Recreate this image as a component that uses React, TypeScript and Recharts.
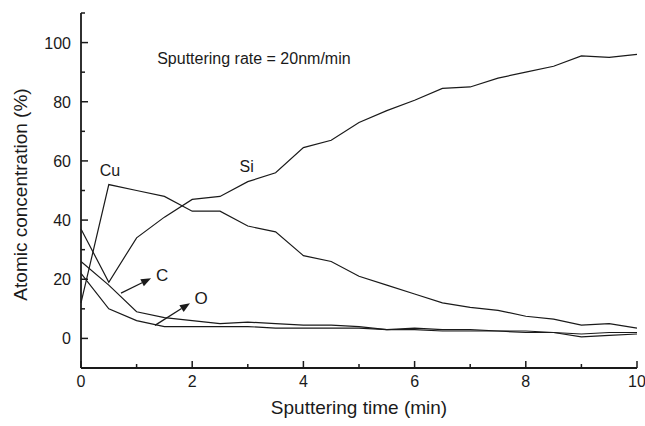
import React from 'react'
import {
  LineChart, Line, XAxis, YAxis, ReferenceDot, ReferenceLine,
} from 'recharts'

const time = [0, 0.5, 1, 1.5, 2, 2.5, 3, 3.5, 4, 4.5, 5, 5.5, 6, 6.5, 7, 7.5, 8, 8.5, 9, 9.5, 10]
const si = [37, 19, 34, 41, 47, 48, 53, 56, 64.5, 67, 73, 77, 80.5, 84.5, 85, 88, 90, 92, 95.5, 95, 96]
const cu = [12, 52, 50, 48, 43, 43, 38, 36, 28, 26, 21, 18, 15, 12, 10.5, 9.5, 7.5, 6.5, 4.5, 5, 3.5]
const carbon = [26, 18, 9, 7, 6, 5, 5.5, 5, 4.5, 4.5, 4, 3, 3.5, 3, 3, 2.5, 2.5, 2, 1.5, 2, 2]
const oxygen = [22, 10, 6, 4, 4, 4, 4, 3.5, 3.5, 3.5, 3.5, 3, 3, 2.5, 2.5, 2.5, 2, 2, 0.5, 1, 1.5]

const xTicks = [0, 1, 2, 3, 4, 5, 6, 7, 8, 9, 10]
const xLabels = [0, 2, 4, 6, 8, 10]
const yTicks = [-10, 0, 10, 20, 30, 40, 50, 60, 70, 80, 90, 100, 110]
const yLabels = [0, 20, 40, 60, 80, 100]

const data = time.map((t, i) => ({
  t, si: si[i], cu: cu[i], c: carbon[i], o: oxygen[i],
}))

const FONT = '"Liberation Sans", Arial, Helvetica, sans-serif'
const INK = '#1a1a1a'

function YTick(props: any) {
  const { x, y, payload } = props
  const v = payload.value
  const major = yLabels.includes(v)
  return (
    <g>
      <line x1={x} x2={x + (major ? 7 : 4)} y1={y} y2={y} stroke={INK} strokeWidth={1.5} />
      {major && (
        <text x={x - 10} y={y + 6} textAnchor="end" fontSize={16} fontFamily={FONT} fill={INK}>
          {v}
        </text>
      )}
    </g>
  )
}

function XTick(props: any) {
  const { x, y, payload } = props
  const v = payload.value
  const major = xLabels.includes(v)
  return (
    <g>
      <line x1={x} x2={x} y1={y} y2={y - (major ? 7 : 4)} stroke={INK} strokeWidth={1.5} />
      {major && (
        <text x={x} y={y + 19} textAnchor="middle" fontSize={16} fontFamily={FONT} fill={INK}>
          {v}
        </text>
      )}
    </g>
  )
}

const textShape = (label: string, size: number, anchor: string) => (p: any) => (
  <text x={p.cx} y={p.cy} textAnchor={anchor} fontSize={size} fontFamily={FONT} fill={INK}>
    {label}
  </text>
)

function Arrow(p: any) {
  const { x1, y1, x2, y2 } = p
  const a = Math.atan2(y2 - y1, x2 - x1)
  const L = 10, W = 4
  const bx = x2 - L * Math.cos(a), by = y2 - L * Math.sin(a)
  const px = -Math.sin(a) * W, py = Math.cos(a) * W
  return (
    <g>
      <line x1={x1} y1={y1} x2={bx} y2={by} stroke={INK} strokeWidth={1.3} />
      <polygon points={`${x2},${y2} ${bx + px},${by + py} ${bx - px},${by - py}`} fill={INK} />
    </g>
  )
}

export default function App() {
  return (
    <div style={{ position: 'absolute', left: 0, top: 0, background: '#fff' }}>
      <LineChart width={645} height={426} data={data} margin={{ top: 13, right: 8, bottom: 0, left: 0 }}>
        <XAxis
          dataKey="t" type="number" domain={[0, 10]} ticks={xTicks}
          tickLine={false} tickSize={0} tickMargin={0} tick={<XTick />}
          axisLine={{ stroke: INK, strokeWidth: 1.8 }} height={58} interval={0}
          label={{ value: 'Sputtering time (min)', position: 'insideBottom', offset: 12, fontSize: 19, fontFamily: FONT, fill: INK }}
        />
        <YAxis
          type="number" domain={[-10, 110]} ticks={yTicks} width={81}
          tickLine={false} tickSize={0} tickMargin={0} tick={<YTick />}
          axisLine={{ stroke: INK, strokeWidth: 1.8 }} interval={0}
          label={{ value: 'Atomic concentration (%)', angle: -90, position: 'insideLeft', offset: 20, dy: 4, fontSize: 19, fontFamily: FONT, fill: INK, style: { textAnchor: 'middle' } }}
        />
        <Line dataKey="si" stroke={INK} strokeWidth={1.2} dot={false} isAnimationActive={false} />
        <Line dataKey="cu" stroke={INK} strokeWidth={1.2} dot={false} isAnimationActive={false} />
        <Line dataKey="c" stroke={INK} strokeWidth={1.2} dot={false} isAnimationActive={false} />
        <Line dataKey="o" stroke={INK} strokeWidth={1.2} dot={false} isAnimationActive={false} />
        <ReferenceDot x={1.37} y={92.7} r={0} shape={textShape('Sputtering rate = 20nm/min', 16, 'start')} />
        <ReferenceDot x={0.52} y={54.9} r={0} shape={textShape('Cu', 16, 'middle')} />
        <ReferenceDot x={2.98} y={56.2} r={0} shape={textShape('Si', 16, 'middle')} />
        <ReferenceDot x={1.46} y={19.4} r={0} shape={textShape('C', 17, 'middle')} />
        <ReferenceDot x={2.16} y={11.6} r={0} shape={textShape('O', 17, 'middle')} />
        <ReferenceLine segment={[{ x: 0.72, y: 15.3 }, { x: 1.26, y: 20.3 }]} shape={<Arrow />} />
        <ReferenceLine segment={[{ x: 1.33, y: 4.4 }, { x: 1.96, y: 11.9 }]} shape={<Arrow />} />
      </LineChart>
    </div>
  )
}
